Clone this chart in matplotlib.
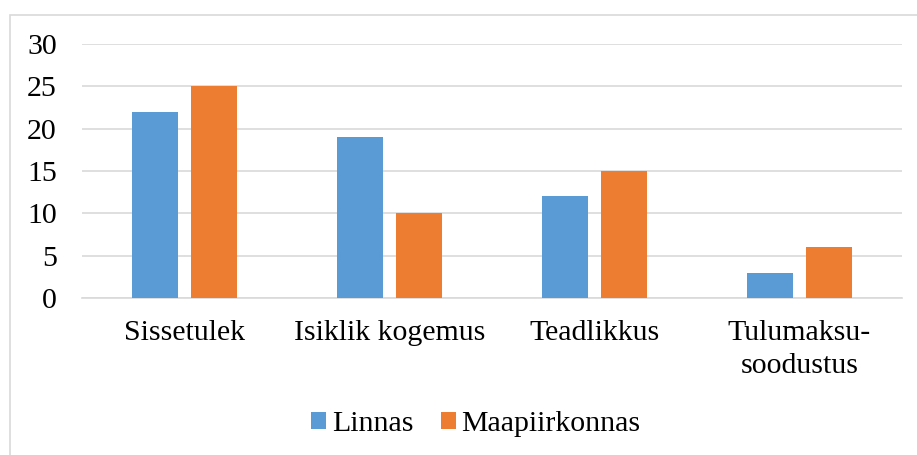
import numpy as np
import matplotlib.pyplot as plt
from matplotlib.patches import Rectangle

# data
categories = ['Sissetulek', 'Isiklik kogemus', 'Teadlikkus', 'Tulumaksu-\nsoodustus']
linnas = [22, 19, 12, 3]
maapiirkonnas = [25, 10, 15, 6]

plt.rcParams['font.family'] = ['Liberation Serif', 'DejaVu Serif']

fig = plt.figure(figsize=(9.17, 4.55), dpi=100)
ax = fig.add_axes([0.0894, 0.345, 0.8943, 0.5583])

# light frame round the chart (only left and top edges visible)
fig.patches.append(Rectangle((10 / 917, -0.1), 1.2, 1.1 - 15 / 455,
                             transform=fig.transFigure, fill=False,
                             edgecolor='#D9D9D9', linewidth=1.2))

x = np.arange(len(categories))
w = 0.224
ax.bar(x - 0.143, linnas, w, color='#5B9BD5', label='Linnas', zorder=3)
ax.bar(x + 0.143, maapiirkonnas, w, color='#ED7D31', label='Maapiirkonnas', zorder=3)

ax.set_xlim(-0.5, 3.5)
ax.set_ylim(0, 30)
ax.set_yticks(range(0, 31, 5))
ax.yaxis.grid(True, color='#D9D9D9', linewidth=1.2, zorder=0)
ax.set_xticks(x)
ax.set_xticklabels(categories, fontsize=21.5, linespacing=1.35)
ax.tick_params(axis='y', labelsize=21.5, length=0, pad=18)
ax.tick_params(axis='x', length=0, pad=16)
for s in ['top', 'right', 'left']:
    ax.spines[s].set_visible(False)
ax.spines['bottom'].set_color('#D9D9D9')
ax.spines['bottom'].set_linewidth(1.2)

fig.legend(loc='center', bbox_to_anchor=(476 / 917, 1 - 424 / 455), ncol=2,
           frameon=False, fontsize=21.5, handlelength=0.5, handleheight=0.5,
           handletextpad=0.2, columnspacing=0.9)

plt.savefig('out.png')
